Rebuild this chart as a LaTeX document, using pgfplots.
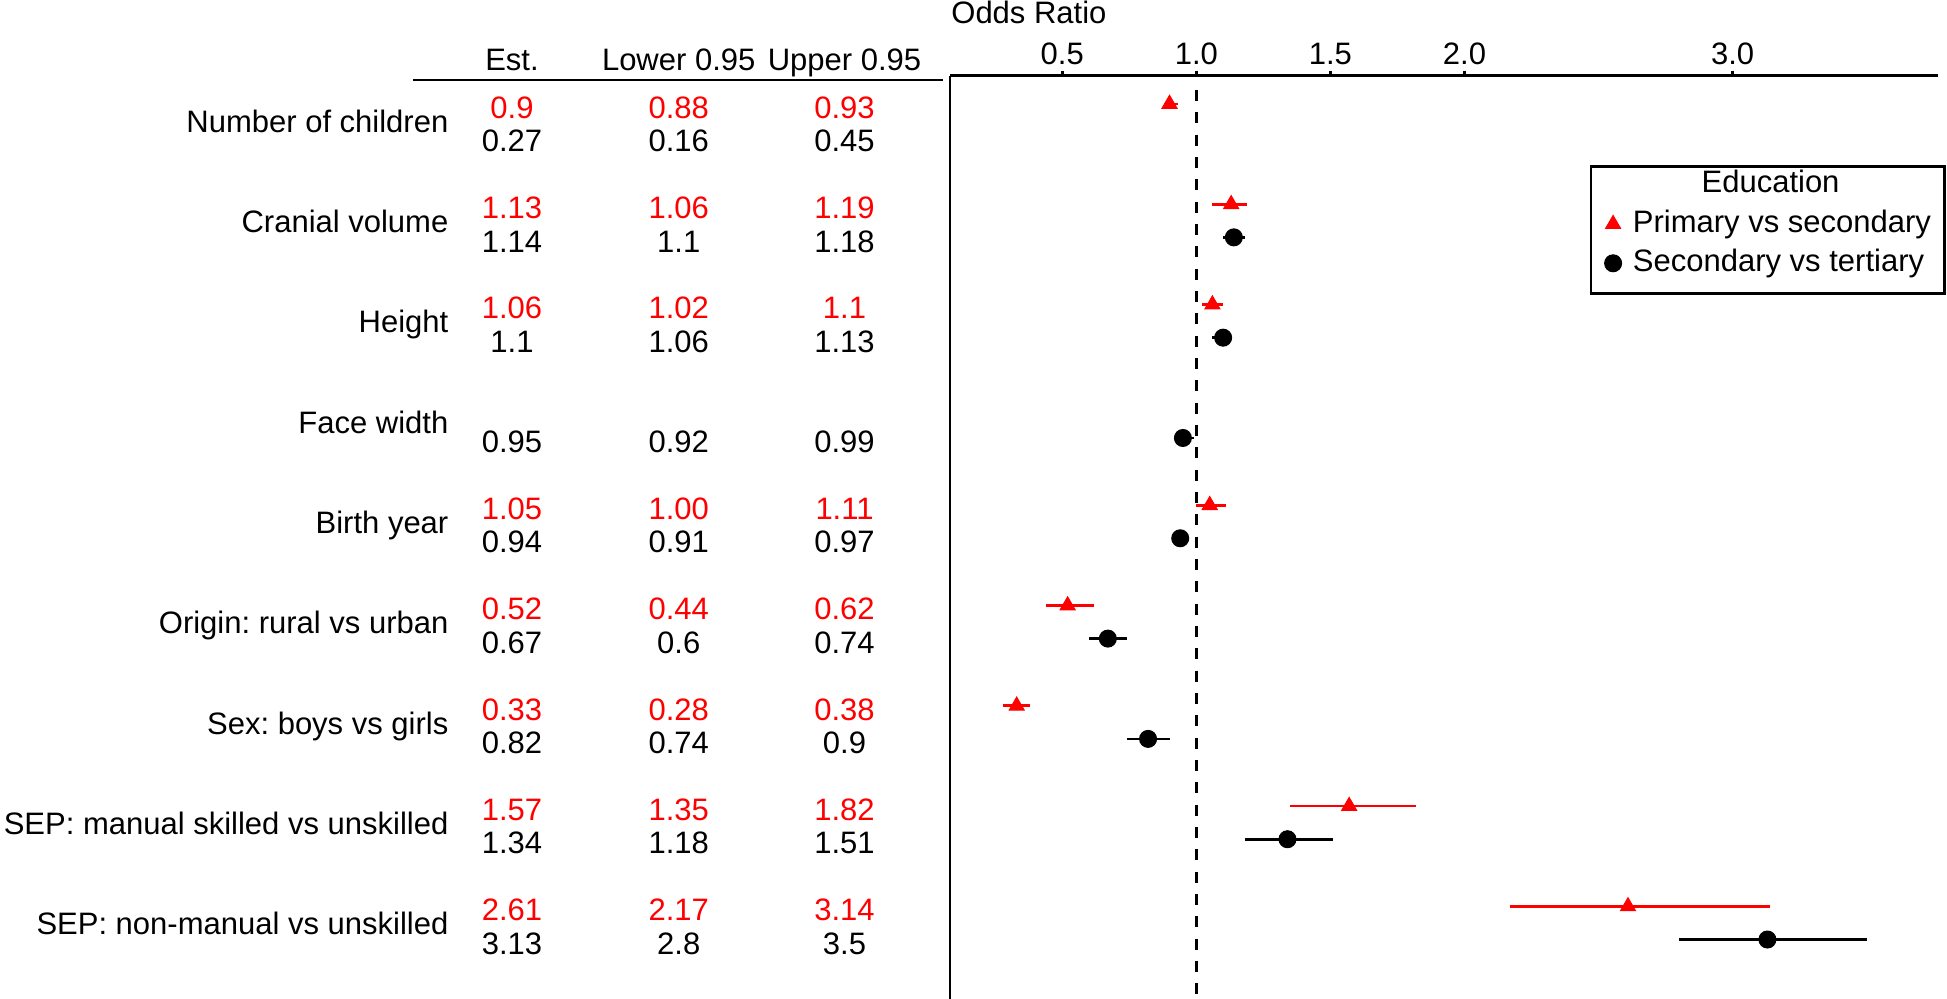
\documentclass[border=0pt]{standalone}
\usepackage{fontspec}
\setmainfont{Liberation Sans}
\usepackage{pgfplots}
\usepackage{pgfplotstable}
\pgfplotsset{compat=1.18}
\newcommand\f{\fontsize{9.3pt}{11pt}\selectfont}

% Primary vs secondary (red)
\pgfplotstableread{
est lo hi y
0.90 0.88 0.93 9
1.13 1.06 1.19 8
1.06 1.02 1.10 7
1.05 1.00 1.11 5
0.52 0.44 0.62 4
0.33 0.28 0.38 3
1.57 1.35 1.82 2
2.61 2.17 3.14 1
}\primary

% Secondary vs tertiary (black)
\pgfplotstableread{
est lo hi y
1.14 1.10 1.18 7.67
1.10 1.06 1.13 6.67
0.95 0.92 0.99 5.67
0.94 0.91 0.97 4.67
0.67 0.60 0.74 3.67
0.82 0.74 0.90 2.67
1.34 1.18 1.51 1.67
3.13 2.80 3.50 0.67
}\secondary

\pgfplotsset{onemark/.style={legend image code/.code={\draw[##1] plot coordinates {(0pt,2.4pt)};}}}

\begin{document}
\frenchspacing
\begin{tikzpicture}[font=\f]
\path[use as bounding box] (0pt,0pt) rectangle (584.1pt,299.7pt);
\begin{axis}[
  at={(285pt,0pt)}, anchor=south west,
  scale only axis, width=296.3pt, height=277pt,
  xmin=0.0813, xmax=3.765, ymin=0.077, ymax=9.282,
  clip=false,
  axis x line*=top, axis y line*=left,
  axis line style={-, line width=0.75pt, black},
  xtick={0.5,1,1.5,2,3}, xticklabels={0.5,1.0,1.5,2.0,3.0},
  ytick=\empty,
  tick align=outside, major tick length=1.5pt,
  tick style={line width=0.75pt, black},
  xticklabel style={font=\f, anchor=base, yshift=1.8pt},
  legend cell align=left,
  legend style={at={(rel axis cs:1.0084,0.9033)}, anchor=north east,
    draw=black, line width=0.8pt, fill=white,
    inner xsep=4.1pt, inner ysep=1.3pt, row sep=3.05pt, column sep=3.4pt,
    cells={anchor=base west},
    nodes={inner sep=0pt, text height=6.7pt, text depth=2pt, font=\f}},
]
\addplot[black, line width=0.75pt, dash pattern=on 3.3pt off 3.4pt, forget plot]
  coordinates {(1,9.14) (1,0.077)};
\addlegendimage{empty legend}
\addlegendentry{\hspace*{20.6pt}Education}
\addplot[red, only marks, mark=triangle*, mark size=2.6pt,
  mark options={solid, fill=red, draw=red, line width=0.3pt},
  onemark,
  error bars/.cd, x dir=both, x explicit, error mark=none,
  error bar style={line width=0.8pt, red}]
  table[x=est, y=y, x error plus expr=\thisrow{hi}-\thisrow{est},
        x error minus expr=\thisrow{est}-\thisrow{lo}] {\primary};
\addlegendentry{Primary vs secondary}
\addplot[black, only marks, mark=*, mark size=2.55pt,
  mark options={solid, fill=black, draw=black, line width=0.3pt},
  onemark,
  error bars/.cd, x dir=both, x explicit, error mark=none,
  error bar style={line width=0.8pt, black}]
  table[x=est, y=y, x error plus expr=\thisrow{hi}-\thisrow{est},
        x error minus expr=\thisrow{est}-\thisrow{lo}] {\secondary};
\addlegendentry[text depth=5.4pt]{Secondary vs tertiary}
\end{axis}

\begin{scope}[x=0.3pt, y=-0.3pt, shift={(0pt,299.7pt)}]
\node[anchor=base west, inner sep=0pt] at (950.7,23.3) {Odds Ratio};
\node[anchor=base] at (512,70.7) {Est.};
\node[anchor=base] at (678.7,70.7) {Lower 0.95};
\node[anchor=base] at (844.5,70.7) {Upper 0.95};
\draw[line width=0.75pt] (413.3,80) -- (943.3,80);
\foreach \i/\lab/\re/\rl/\ru/\be/\bl/\bu in {
 0/Number of children/0.9/0.88/0.93/0.27/0.16/0.45,
 1/Cranial volume/1.13/1.06/1.19/1.14/1.1/1.18,
 2/Height/1.06/1.02/1.1/1.1/1.06/1.13,
 3/Face width/{}/{}/{}/0.95/0.92/0.99,
 4/Birth year/1.05/1.00/1.11/0.94/0.91/0.97,
 5/Origin: rural vs urban/0.52/0.44/0.62/0.67/0.6/0.74,
 6/Sex: boys vs girls\hspace{2.7pt}/0.33/0.28/0.38/0.82/0.74/0.9,
 7/SEP: manual skilled vs unskilled/1.57/1.35/1.82/1.34/1.18/1.51,
 8/SEP: non-manual vs unskilled/2.61/2.17/3.14/3.13/2.8/3.5}
{
  \pgfmathsetmacro\yr{104+100.3*\i}
  \node[anchor=base east, inner sep=0pt] at (449,\yr+28.4) {\lab};
  \node[anchor=base, text=red] at (512,\yr+14.3) {\re};
  \node[anchor=base, text=red] at (678.7,\yr+14.3) {\rl};
  \node[anchor=base, text=red] at (844.5,\yr+14.3) {\ru};
  \node[anchor=base] at (512,\yr+47.8) {\be};
  \node[anchor=base] at (678.7,\yr+47.8) {\bl};
  \node[anchor=base] at (844.5,\yr+47.8) {\bu};
}
\end{scope}
\end{tikzpicture}
\end{document}
